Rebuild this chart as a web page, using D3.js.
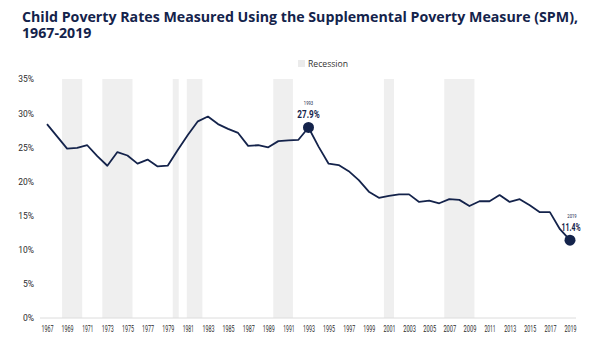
<!DOCTYPE html>
<html>
<head>
<meta charset="utf-8">
<script src="https://cdn.jsdelivr.net/npm/d3@7/dist/d3.min.js"></script>
<style>
  html, body { margin: 0; padding: 0; background: #fff; }
  svg { display: block; }
  .ax text { font-family: "Roboto", "Liberation Sans", sans-serif; fill: #2b2b2b; }
</style>
</head>
<body>
<script>
const titleLines = ["Child Poverty Rates Measured Using the Supplemental Poverty Measure (SPM),", "1967-2019"];
const years = d3.range(1967, 2020);
const rates = [28.4, 26.6, 24.8, 24.9, 25.3, 23.7, 22.3, 24.3, 23.8, 22.6,
               23.2, 22.2, 22.3, 24.6, 26.8, 28.8, 29.5, 28.4, 27.7, 27.1,
               25.2, 25.3, 25.0, 25.9, 26.0, 26.1, 27.9, 25.1, 22.6, 22.4,
               21.5, 20.2, 18.5, 17.6, 17.9, 18.1, 18.1, 17.0, 17.2, 16.8,
               17.4, 17.3, 16.4, 17.1, 17.1, 18.0, 17.0, 17.4, 16.5, 15.5,
               15.5, 13.0, 11.4];
const recessionStart = [1968.5, 1972.5, 1979.5, 1980.9, 1989.5, 2000.5, 2006.5];
const recessionEnd   = [1970.5, 1975.5, 1980.1, 1982.45, 1991.45, 2001.5, 2009.5];
const xTickYears = d3.range(1967, 2020, 2);
const yTicks = [0, 5, 10, 15, 20, 25, 30, 35];
const highlights = [1993, 2019];
const legendLabel = "Recession";

const W = 600, H = 351;
const navy = "#14234b";
const svg = d3.select("body").append("svg").attr("width", W).attr("height", H);

const x = d3.scaleLinear().domain([1967, 2019]).range([47, 570]);
const y = d3.scaleLinear().domain([0, 35]).range([318, 79]);

// condensed look: squeeze glyphs to a target width
function squeeze(sel, perChar) {
  sel.each(function () {
    const t = this.textContent;
    let w = 0;
    for (const c of t) w += perChar(c);
    d3.select(this).attr("textLength", w).attr("lengthAdjust", "spacingAndGlyphs");
  });
}

// title
const title = svg.append("g");
titleLines.forEach((t, i) => {
  title.append("text")
    .attr("x", 22).attr("y", 22 + i * 16)
    .attr("font-family", "'Open Sans', 'DejaVu Sans', sans-serif")
    .attr("font-weight", 700)
    .attr("font-size", 15)
    .attr("fill", navy)
    .text(t);
});
const first = title.select("text").node();
const len = first.getComputedTextLength();
const fs = 15 * 556 / len;
title.selectAll("text").attr("font-size", Math.min(15.5, fs));
title.select("text").attr("textLength", 556).attr("lengthAdjust", "spacingAndGlyphs");

// recession bands
svg.append("g").selectAll("rect")
  .data(recessionStart.map((s, i) => [s, recessionEnd[i]]))
  .join("rect")
  .attr("x", d => x(d[0]))
  .attr("width", d => x(d[1]) - x(d[0]))
  .attr("y", y(35))
  .attr("height", y(0) - y(35))
  .attr("fill", "#efefef");

// legend
const lg = svg.append("g");
lg.append("rect").attr("x", 298).attr("y", 60).attr("width", 7).attr("height", 7).attr("fill", "#ebebeb");
lg.append("text").attr("x", 308).attr("y", 66.5)
  .attr("font-family", "'Open Sans', 'DejaVu Sans', sans-serif")
  .attr("font-size", 8.5).attr("fill", "#333").text(legendLabel)
  .attr("textLength", 40).attr("lengthAdjust", "spacingAndGlyphs");

// y axis
const yAx = svg.append("g").attr("class", "ax").attr("transform", "translate(34,0)")
  .call(d3.axisLeft(y).tickValues(yTicks).tickFormat(d => d + "%").tickSize(0).tickPadding(0));
yAx.select(".domain").remove();
yAx.selectAll("text").attr("font-size", 9);
squeeze(yAx.selectAll("text"), c => c === "%" ? 6.5 : 4.6);

// x axis
const xAx = svg.append("g").attr("class", "ax").attr("transform", "translate(0,318)")
  .call(d3.axisBottom(x).tickValues(xTickYears).tickFormat(d3.format("d")).tickSize(0).tickPadding(8));
xAx.select(".domain").remove();
xAx.selectAll("text").attr("font-size", 9);
squeeze(xAx.selectAll("text"), c => c === "1" ? 2.4 : 3.2);
svg.append("line").attr("x1", 40).attr("x2", 576).attr("y1", y(0)).attr("y2", y(0))
  .attr("stroke", "#dcdcdc").attr("stroke-width", 1);

// line
const pts = years.map((yr, i) => [yr, rates[i]]);
svg.append("path").datum(pts)
  .attr("fill", "none").attr("stroke", navy).attr("stroke-width", 1.8)
  .attr("stroke-linejoin", "round")
  .attr("d", d3.line().x(d => x(d[0])).y(d => y(d[1])));

// highlight points
highlights.forEach(yr => {
  const v = rates[years.indexOf(yr)];
  const g = svg.append("g");
  g.append("circle").attr("cx", x(yr)).attr("cy", y(v)).attr("r", 5.5).attr("fill", navy);
  const small = g.append("text").attr("x", x(yr) + (yr === 2019 ? 2 : 0)).attr("y", y(v) - 22)
    .attr("text-anchor", "middle")
    .attr("font-family", "Roboto, sans-serif")
    .attr("font-size", 6).attr("fill", navy).text(yr);
  squeeze(small, c => c === "1" ? 1.8 : 2.5);
  const big = g.append("text").attr("x", x(yr) + (yr === 2019 ? 1 : 0)).attr("y", y(v) - 9.5)
    .attr("text-anchor", "middle")
    .attr("font-family", "Roboto, sans-serif")
    .attr("font-weight", 700)
    .attr("font-size", 11).attr("fill", navy).text(v.toFixed(1) + "%");
  squeeze(big, c => c === "%" ? 6.5 : c === "." ? 2 : c === "1" ? 3 : 4.6);
});
</script>
</body>
</html>
